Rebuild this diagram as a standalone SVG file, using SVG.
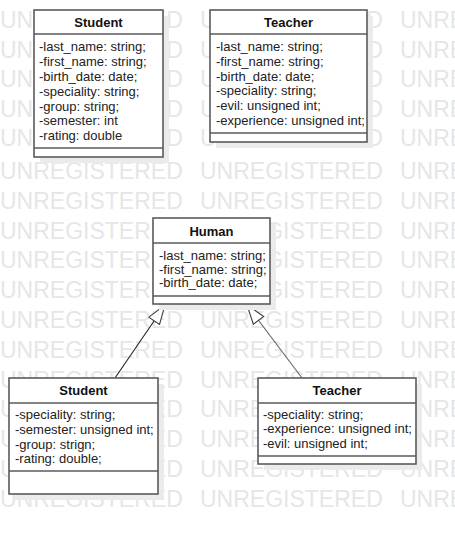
<svg xmlns="http://www.w3.org/2000/svg" xmlns:xlink="http://www.w3.org/1999/xlink" width="455" height="535" viewBox="0 0 455 535">
<style>
.wm{font-family:"Liberation Sans",Arial,sans-serif;font-size:23px;fill:#e6e6e6}
.box{fill:#fff;stroke:#5a5a5a;stroke-width:1.6}
.sh{fill:#ebebeb}
.div{stroke:#5a5a5a;stroke-width:1.6}
.t{font-family:"Liberation Sans",Arial,sans-serif;font-size:13px;font-weight:bold;fill:#111;text-anchor:middle}
.a{font-family:"Liberation Sans",Arial,sans-serif;font-size:13px;fill:#222}
.c{fill:none;stroke-width:1.1}
</style>
<defs>
<g id="wmrow">
<text class="wm" x="0" y="0">UNREGISTERED</text>
<text class="wm" x="200" y="0">UNREGISTERED</text>
<text class="wm" x="400" y="0">UNREGISTERED</text>
</g>
<marker id="tri" markerWidth="22" markerHeight="16" refX="20" refY="7" orient="auto" markerUnits="userSpaceOnUse">
<path d="M0.8,0.5 L20,7 L0.8,13.5 Z" fill="#fff" stroke="#444" stroke-width="1.1"/>
</marker>
</defs>
<rect width="455" height="535" fill="#fff"/>
<g id="watermark">
<use xlink:href="#wmrow" y="28"/>
<use xlink:href="#wmrow" y="57.5"/>
<use xlink:href="#wmrow" y="87"/>
<use xlink:href="#wmrow" y="116.5"/>
<use xlink:href="#wmrow" y="146"/>
<use xlink:href="#wmrow" y="179"/>
<use xlink:href="#wmrow" y="208.8"/>
<use xlink:href="#wmrow" y="238.6"/>
<use xlink:href="#wmrow" y="268.4"/>
<use xlink:href="#wmrow" y="298.2"/>
<use xlink:href="#wmrow" y="328"/>
<use xlink:href="#wmrow" y="357.8"/>
<use xlink:href="#wmrow" y="387.6"/>
<use xlink:href="#wmrow" y="417.4"/>
<use xlink:href="#wmrow" y="447.2"/>
<use xlink:href="#wmrow" y="477"/>
<use xlink:href="#wmrow" y="506.8"/>
</g>
<g id="connectors">
<line class="c" x1="115" y1="378" x2="165" y2="305" stroke="#222" marker-end="url(#tri)"/>
<line class="c" x1="302" y1="378" x2="247" y2="305" stroke="#666" marker-end="url(#tri)"/>
</g>
<g id="student-top">
<rect class="sh" x="40" y="16" width="129" height="147"/>
<rect class="box" x="34" y="10" width="129" height="147"/>
<line class="div" x1="34" y1="34" x2="163" y2="34"/>
<line class="div" x1="34" y1="148" x2="163" y2="148"/>
<text class="t" x="98.5" y="27">Student</text>
<text class="a" x="39" y="51">-last_name: string;</text>
<text class="a" x="39" y="66">-first_name: string;</text>
<text class="a" x="39" y="80.5">-birth_date: date;</text>
<text class="a" x="39" y="95.5">-speciality: string;</text>
<text class="a" x="39" y="110.5">-group: string;</text>
<text class="a" x="39" y="125">-semester: int</text>
<text class="a" x="39" y="140">-rating: double</text>
</g>
<g id="teacher-top">
<rect class="sh" x="216" y="16" width="157" height="132"/>
<rect class="box" x="210" y="10" width="157" height="132"/>
<line class="div" x1="210" y1="34" x2="367" y2="34"/>
<line class="div" x1="210" y1="133" x2="367" y2="133"/>
<text class="t" x="288.5" y="27">Teacher</text>
<text class="a" x="216" y="50.5">-last_name: string;</text>
<text class="a" x="216" y="65.5">-first_name: string;</text>
<text class="a" x="216" y="80.5">-birth_date: date;</text>
<text class="a" x="216" y="95">-speciality: string;</text>
<text class="a" x="216" y="110">-evil: unsigned int;</text>
<text class="a" x="216" y="125">-experience: unsigned int;</text>
</g>
<g id="human">
<rect class="sh" x="159" y="224" width="117" height="86"/>
<rect class="box" x="153" y="218" width="117" height="86"/>
<line class="div" x1="153" y1="243" x2="270" y2="243"/>
<line class="div" x1="153" y1="296" x2="270" y2="296"/>
<text class="t" x="211.5" y="235.5">Human</text>
<text class="a" x="159" y="259.5">-last_name: string;</text>
<text class="a" x="159" y="273.5">-first_name: string;</text>
<text class="a" x="159" y="287">-birth_date: date;</text>
</g>
<g id="student-bottom">
<rect class="sh" x="15" y="384" width="149" height="116"/>
<rect class="box" x="9" y="378" width="149" height="116"/>
<line class="div" x1="9" y1="403" x2="158" y2="403"/>
<line class="div" x1="9" y1="471" x2="158" y2="471"/>
<text class="t" x="83.5" y="394.5">Student</text>
<text class="a" x="15" y="418.5">-speciality: string;</text>
<text class="a" x="15" y="433.5">-semester: unsigned int;</text>
<text class="a" x="15" y="448.5">-group: strign;</text>
<text class="a" x="15" y="463">-rating: double;</text>
</g>
<g id="teacher-bottom">
<rect class="sh" x="264" y="384" width="158" height="86"/>
<rect class="box" x="258" y="378" width="158" height="86"/>
<line class="div" x1="258" y1="403" x2="416" y2="403"/>
<line class="div" x1="258" y1="456" x2="416" y2="456"/>
<text class="t" x="337" y="394.5">Teacher</text>
<text class="a" x="263" y="418.5">-speciality: string;</text>
<text class="a" x="263" y="433">-experience: unsigned int;</text>
<text class="a" x="263" y="448">-evil: unsigned int;</text>
</g>
</svg>
